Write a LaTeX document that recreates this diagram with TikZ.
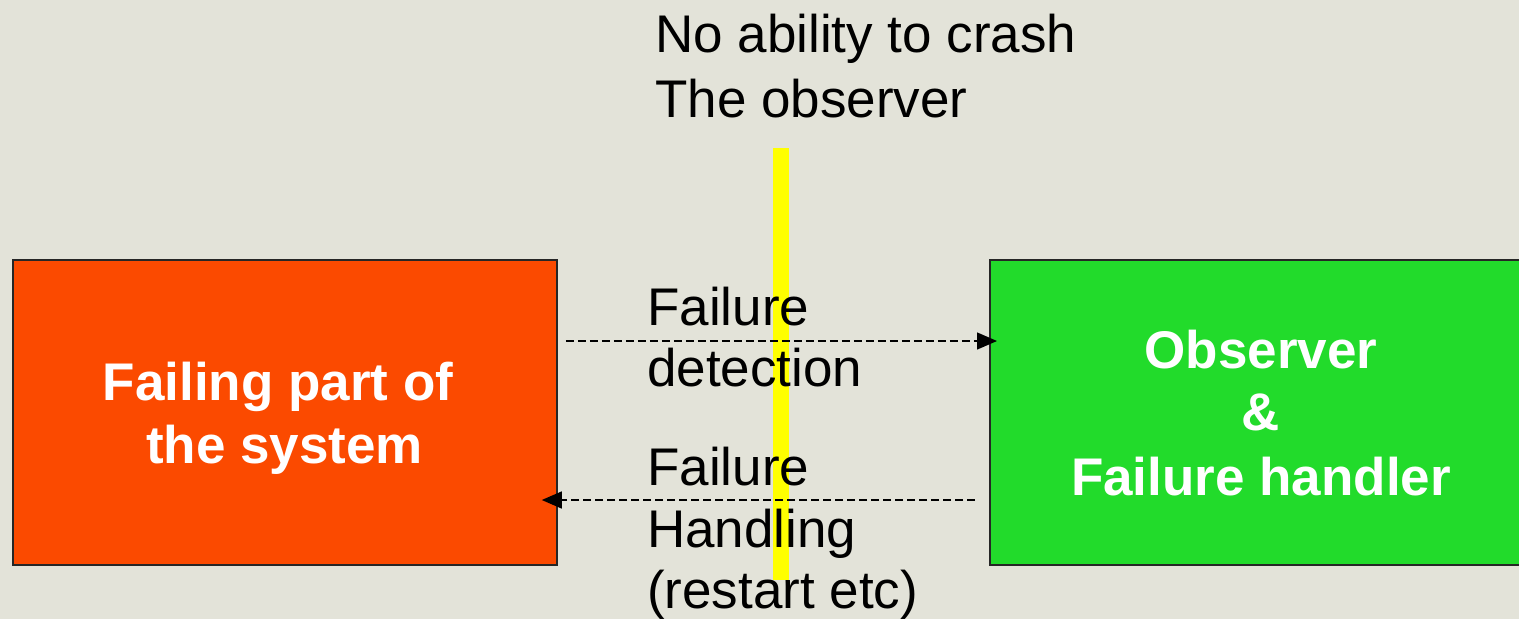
\documentclass[tikz,border=0pt]{standalone}
\usepackage{fontspec}
\setmainfont{Liberation Sans}
\usetikzlibrary{arrows.meta}
\definecolor{bgc}{RGB}{227,227,217}
\definecolor{orangec}{RGB}{251,74,0}
\definecolor{greenc}{RGB}{34,219,43}
\definecolor{yellowc}{RGB}{255,255,0}
\tikzset{
  box/.style={draw=black!85, line width=1.6pt, inner sep=0pt},
  txt/.style={inner sep=0pt, font=\fontsize{53}{62}\selectfont, text=black},
  btxt/.style={inner sep=0pt, font=\fontsize{53}{62}\selectfont\bfseries, text=white},
  flow/.style={dash pattern=on 8pt off 4pt, line width=1.4pt, -{Triangle[length=20pt,width=17pt]}}
}
\begin{document}
\begin{tikzpicture}[x=1pt,y=-1pt]
\clip (0,0) rectangle (1519,619);
\fill[bgc] (0,0) rectangle (1519,619);
% boxes
\node[box, fill=orangec, minimum width=544pt, minimum height=305pt] (fail) at (285,412.5) {};
\node[box, fill=greenc, minimum width=533pt, minimum height=305pt, anchor=west] (obs) at (989,412.5) {};
% yellow bar
\fill[yellowc] (773,148) rectangle (789,580);
% top text
\node[txt, anchor=base west] (t1) at (655,52) {No ability to crash};
\node[txt, anchor=base west] (t2) at (655,117) {The observer};
% box texts
\node[btxt, anchor=base] (f1) at (278,400) {Failing part of};
\node[btxt, anchor=base] (f2) at (284.5,463) {the system};
\node[btxt, anchor=base] (o1) at (1261,368) {Observer};
\node[btxt, anchor=base] (o2) at (1261,430) {\&};
\node[btxt, anchor=base] (o3) at (1261,495) {Failure handler};
% arrow labels
\node[txt, anchor=base west] (d1) at (647,325) {Failure};
\node[txt, anchor=base west] (d2) at (647,386) {detection};
\node[txt, anchor=base west] (h1) at (647,485) {Failure};
\node[txt, anchor=base west] (h2) at (647,547) {Handling};
\node[txt, anchor=base west] (h3) at (647,608) {(restart etc)};
% arrows
\draw[flow] ([shift={(8,-71.5)}]fail.east) -- ([shift={(8,-71.5)}]obs.west);
\draw[flow] ([shift={(-14,87.5)}]obs.west) -- ([shift={(-16,87.5)}]fail.east);
\end{tikzpicture}
\end{document}
